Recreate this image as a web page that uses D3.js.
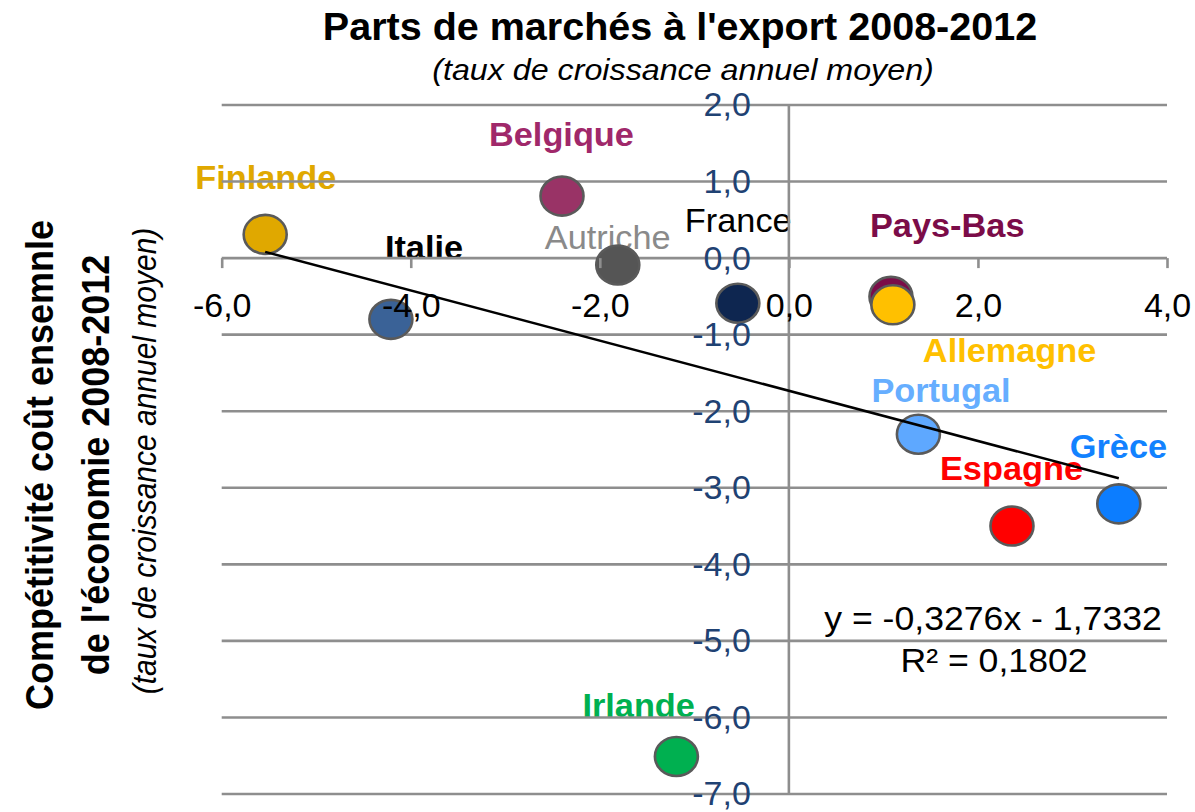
<!DOCTYPE html>
<html>
<head>
<meta charset="utf-8">
<script src="https://cdn.jsdelivr.net/npm/d3@7"></script>
<style>
  html, body { margin: 0; padding: 0; background: #ffffff; }
  svg { display: block; }
  text { font-family: "Liberation Sans", Arial, Helvetica, sans-serif; }
</style>
</head>
<body>
<script>
// ---------- DATA ----------
const categories = ["Finlande","Belgique","Autriche","Italie","France","Pays-Bas","Allemagne","Portugal","Espagne","Grèce","Irlande"];
const xValues    = [-5.54, -2.40, -1.81, -4.21, -0.54, 1.08, 1.10, 1.37, 2.36, 3.49, -1.19];
const yValues    = [ 0.31,  0.81, -0.09, -0.80, -0.59, -0.50, -0.61, -2.30, -3.50, -3.21, -6.51];
const xTicks     = [-6, -4, -2, 0, 2, 4];
const yTicks     = [2, 1, 0, -1, -2, -3, -4, -5, -6, -7];
const trendSlope = -0.3276;
const trendIntercept = -1.7332;
const rSquared   = 0.1802;
const titleText  = "Parts de marchés à l'export 2008-2012";
const subtitleText = "(taux de croissance annuel moyen)";
const yTitleLines = ["Compétitivité coût ensemnle", "de l'économie 2008-2012"];
const yTitleSub  = "(taux de croissance annuel moyen)";

// ---------- STYLES (not data) ----------
const pointStyle = {
  "Finlande":  {fill:"#E0A800", text:"#E0A800", bold:true,  dx:-70, dy:-45},
  "Belgique":  {fill:"#993366", text:"#A0286A", bold:true,  dx:-73, dy:-50},
  "Autriche":  {fill:"#555555", text:"#8A8A8A", bold:false, dx:-73, dy:-16},
  "Italie":    {fill:"#3A6297", text:"#000000", bold:true,  dx:-6,  dy:-60},
  "France":    {fill:"#0E2650", text:"#000000", bold:false, dx:-53, dy:-71},
  "Pays-Bas":  {fill:"#7B0C48", text:"#7B0C48", bold:true,  dx:-21, dy:-59},
  "Allemagne": {fill:"#FFC000", text:"#FFC000", bold:true,  dx:30,  dy:57},
  "Portugal":  {fill:"#5EA8FF", text:"#66AEFF", bold:true,  dx:-47, dy:-32},
  "Espagne":   {fill:"#FF0000", text:"#FF0000", bold:true,  dx:-72, dy:-46},
  "Grèce":     {fill:"#0C7DFF", text:"#1282FF", bold:true,  dx:-49, dy:-46},
  "Irlande":   {fill:"#00B050", text:"#00B050", bold:true,  dx:-94, dy:-39}
};

const W = 1195, H = 812;
const svg = d3.select("body").append("svg").attr("width", W).attr("height", H);
svg.append("rect").attr("width", W).attr("height", H).attr("fill", "#fff");

const x = d3.scaleLinear().domain([-6, 4]).range([221.7, 1167]);
const y = d3.scaleLinear().domain([-7, 2]).range([794, 105]);
const gridColor = "#8E8E8E";
const fmt = d => d.toFixed(1).replace(".", ",");

function stretchedText(g, px, py, str, opt) {
  return g.append("text")
    .attr("transform", `translate(${px},${py}) scale(${opt.sx || 1},1)`)
    .attr("text-anchor", opt.anchor || "start")
    .attr("font-size", opt.size)
    .attr("font-weight", opt.weight || "normal")
    .attr("font-style", opt.style || "normal")
    .attr("fill", opt.fill || "#000")
    .text(str);
}

const points = categories.map((c, i) => ({name: c, xv: xValues[i], yv: yValues[i]}));

// ---------- Data labels (under gridlines) ----------
const gLabels = svg.append("g");
points.forEach(p => {
  const s = pointStyle[p.name];
  stretchedText(gLabels, x(p.xv) + s.dx, y(p.yv) + s.dy, p.name,
    {size: 33, weight: s.bold ? "bold" : "normal", fill: s.text, sx: 1.04});
});

// ---------- Gridlines ----------
const gGrid = svg.append("g");
gGrid.selectAll("line.h").data(yTicks).join("line")
  .attr("x1", x(-6)).attr("x2", x(4))
  .attr("y1", d => y(d)).attr("y2", d => y(d))
  .attr("stroke", gridColor).attr("stroke-width", 2.6);

// vertical axis at x = 0
gGrid.append("line")
  .attr("x1", x(0)).attr("x2", x(0))
  .attr("y1", y(2)).attr("y2", y(-7))
  .attr("stroke", gridColor).attr("stroke-width", 2.6);

// ---------- Points ----------
const gPts = svg.append("g");
gPts.selectAll("ellipse").data(points).join("ellipse")
  .attr("cx", d => x(d.xv)).attr("cy", d => y(d.yv))
  .attr("rx", 21.5).attr("ry", 19.5)
  .attr("fill", d => pointStyle[d.name].fill)
  .attr("stroke", "#5A5A5A").attr("stroke-width", 2.6);

// ---------- Trendline ----------
const xMin = d3.min(xValues), xMax = d3.max(xValues);
svg.append("line")
  .attr("x1", x(xMin)).attr("y1", y(trendSlope * xMin + trendIntercept))
  .attr("x2", x(xMax)).attr("y2", y(trendSlope * xMax + trendIntercept))
  .attr("stroke", "#000").attr("stroke-width", 2.5);

// ---------- X axis (ticks + labels at y = 0) ----------
const xAxis = d3.axisBottom(x).tickValues(xTicks).tickFormat(fmt).tickSize(10).tickPadding(25);
const gx = svg.append("g").attr("transform", `translate(0,${y(0)})`).call(xAxis);
gx.select(".domain").remove();
gx.selectAll(".tick line").attr("stroke", gridColor).attr("stroke-width", 2.6);
gx.selectAll(".tick text").attr("font-size", 34).attr("fill", "#000")
  .attr("font-family", "'Liberation Sans', Arial, sans-serif");

// ---------- Y axis labels ----------
const yAxis = d3.axisLeft(y).tickValues(yTicks).tickFormat(fmt).tickSize(0).tickPadding(38);
const gy = svg.append("g").attr("transform", `translate(${x(0)},0)`).call(yAxis);
gy.select(".domain").remove();
gy.selectAll(".tick text").attr("font-size", 34).attr("fill", "#1F4273")
  .attr("font-family", "'Liberation Sans', Arial, sans-serif");

// ---------- Titles ----------
stretchedText(svg, 680, 40, titleText, {size: 38, weight: "bold", anchor: "middle", sx: 1.04});
stretchedText(svg, 683, 80, subtitleText, {size: 30, style: "italic", anchor: "middle", sx: 1.075});

// Y-axis title (rotated)
const yTitleCenter = 465;
svg.append("text")
  .attr("transform", `translate(53,${yTitleCenter}) rotate(-90) scale(1,1.1)`)
  .attr("text-anchor", "middle").attr("font-size", 36).attr("font-weight", "bold")
  .text(yTitleLines[0]);
svg.append("text")
  .attr("transform", `translate(109,${yTitleCenter}) rotate(-90) scale(1,1.1)`)
  .attr("text-anchor", "middle").attr("font-size", 36).attr("font-weight", "bold")
  .text(yTitleLines[1]);
svg.append("text")
  .attr("transform", `translate(156,${yTitleCenter - 4}) rotate(-90) scale(1,1.1)`)
  .attr("text-anchor", "middle").attr("font-size", 30).attr("font-style", "italic")
  .text(yTitleSub);

// ---------- Regression equation ----------
function fmt4(v) { return v.toFixed(4).replace(".", ","); }
const eq1 = "y = " + fmt4(trendSlope) + "x - " + fmt4(Math.abs(trendIntercept));
stretchedText(svg, 993, 630, eq1, {size: 33, anchor: "middle", sx: 1.08});
stretchedText(svg, 994, 672, "R² = " + fmt4(rSquared), {size: 33, anchor: "middle", sx: 1.08});
</script>
</body>
</html>
